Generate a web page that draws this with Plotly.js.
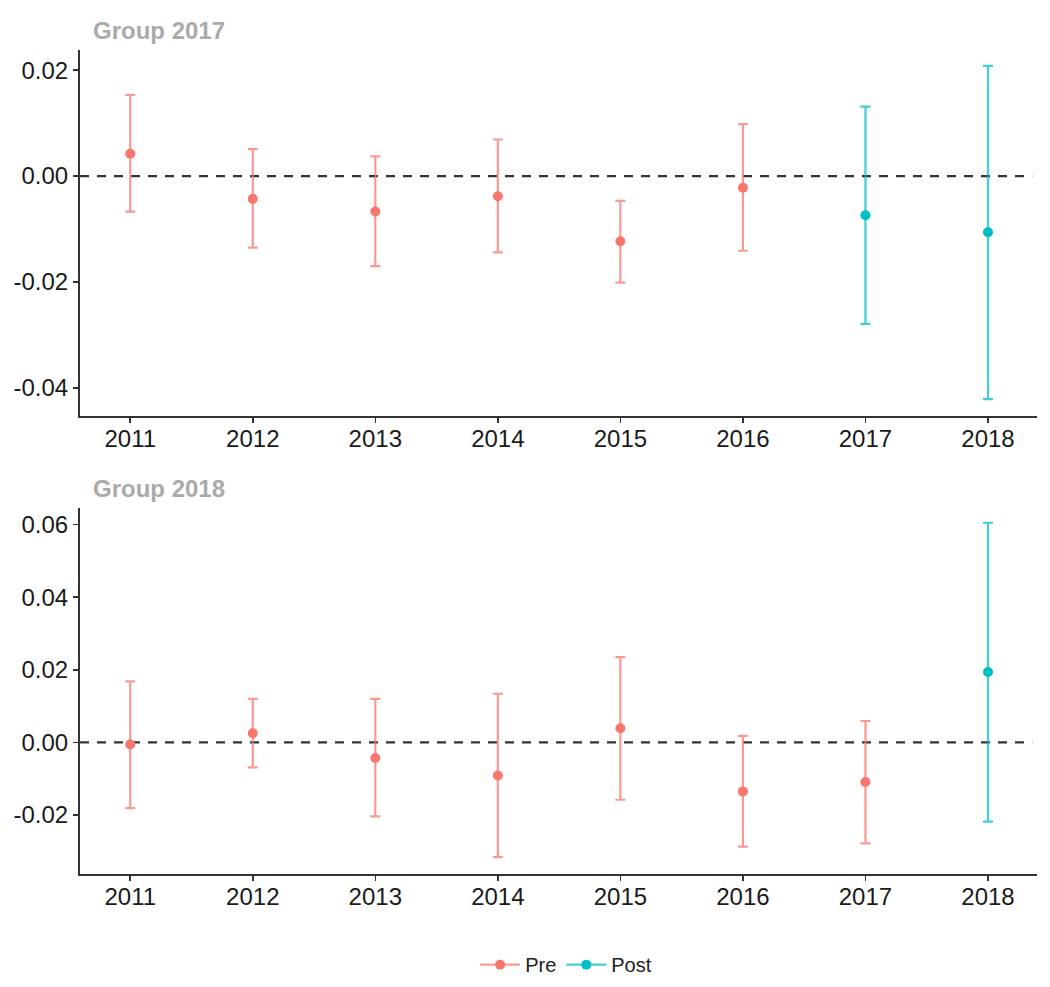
<!DOCTYPE html>
<html>
<head>
<meta charset="utf-8">
<script src="https://cdn.plot.ly/plotly-3.0.1.min.js"></script>
<style>html,body{margin:0;padding:0;background:#fff}#chart{width:1050px;height:987px}</style>
</head>
<body>
<div id="chart"></div>
<script>
var years = [2011, 2012, 2013, 2014, 2015, 2016, 2017, 2018];

var g2017_est  = [0.0042, -0.0043, -0.0067, -0.0038, -0.0123, -0.0022, -0.0074, -0.0106];
var g2017_low  = [-0.0067, -0.0135, -0.0170, -0.0144, -0.0201, -0.0141, -0.0279, -0.0421];
var g2017_high = [0.0153, 0.0051, 0.0037, 0.0069, -0.0047, 0.0098, 0.0131, 0.0208];
var g2017_period = ["Pre", "Pre", "Pre", "Pre", "Pre", "Pre", "Post", "Post"];

var g2018_est  = [-0.0006, 0.0025, -0.0043, -0.0091, 0.0039, -0.0135, -0.0109, 0.0194];
var g2018_low  = [-0.0181, -0.0069, -0.0204, -0.0316, -0.0158, -0.0287, -0.0278, -0.0218];
var g2018_high = [0.0168, 0.0120, 0.0120, 0.0134, 0.0235, 0.0018, 0.0059, 0.0605];
var g2018_period = ["Pre", "Pre", "Pre", "Pre", "Pre", "Pre", "Pre", "Post"];

var periods = ["Pre", "Post"];
var colors = {Pre: "#F8766D", Post: "#00BFC4"};
var barColors = {Pre: "rgba(248,118,109,0.75)", Post: "rgba(0,191,196,0.75)"};

function makeTraces(est, low, high, period, xa, ya) {
  var out = [];
  periods.forEach(function (p) {
    var xs = [], ys = [], up = [], dn = [];
    for (var i = 0; i < years.length; i++) {
      if (period[i] === p) {
        xs.push(years[i]); ys.push(est[i]);
        up.push(high[i] - est[i]); dn.push(est[i] - low[i]);
      }
    }
    out.push({
      type: "scatter", mode: "markers", x: xs, y: ys,
      xaxis: xa, yaxis: ya, showlegend: false, name: p,
      marker: {color: colors[p], size: 10},
      error_y: {type: "data", symmetric: false, array: up, arrayminus: dn,
                color: barColors[p], thickness: 2.2, width: 5}
    });
  });
  return out;
}

var data = [].concat(
  makeTraces(g2017_est, g2017_low, g2017_high, g2017_period, "x", "y"),
  makeTraces(g2018_est, g2018_low, g2018_high, g2018_period, "x2", "y2")
);
periods.forEach(function (p) {
  data.push({type: "scatter", mode: "lines+markers", x: [null], y: [null], name: p,
    xaxis: "x", yaxis: "y",
    line: {color: barColors[p], width: 2.2}, marker: {color: colors[p], size: 10}});
});

var tickFont = {family: "Liberation Sans, Arial, sans-serif", size: 24, color: "#1a1a1a"};
function xaxis(anchor) {
  return {anchor: anchor, domain: [0, 1], range: [2010.59, 2018.4],
    tickvals: years, ticktext: years.map(String), tickfont: tickFont,
    showline: true, linecolor: "#333", linewidth: 2, ticks: "outside",
    ticklen: 5, tickwidth: 1.6, tickcolor: "#333", showgrid: false, zeroline: false,
    automargin: false, ticklabelstandoff: -5};
}
function yaxis(anchor, dom, range, tv, tt) {
  return {anchor: anchor, domain: dom, range: range, tickvals: tv, ticktext: tt,
    tickfont: tickFont, showline: true, linecolor: "#333", linewidth: 2,
    ticks: "outside", ticklen: 5, tickwidth: 1.6, tickcolor: "#333",
    showgrid: false, zeroline: false, automargin: false};
}

var layout = {
  width: 1050, height: 987,
  margin: {l: 80, r: 13, t: 50, b: 113, autoexpand: false},
  paper_bgcolor: "#fff", plot_bgcolor: "#fff",
  font: {family: "Liberation Sans, Arial, sans-serif"},
  xaxis: xaxis("y"),
  yaxis: yaxis("x", [0.5558, 1], [-0.0453, 0.0238],
    [-0.04, -0.02, 0, 0.02], ["-0.04", "-0.02", "0.00", "0.02"]),
  xaxis2: xaxis("y2"),
  yaxis2: yaxis("x2", [0, 0.4442], [-0.03625, 0.06457],
    [-0.02, 0, 0.02, 0.04, 0.06], ["-0.02", "0.00", "0.02", "0.04", "0.06"]),
  shapes: [
    {type: "line", xref: "x domain", yref: "y", x0: 0, x1: 0.995, y0: 0, y1: 0,
     line: {color: "#333", width: 2.2, dash: "9px,8px"}, layer: "below"},
    {type: "line", xref: "x2 domain", yref: "y2", x0: 0, x1: 0.995, y0: 0, y1: 0,
     line: {color: "#333", width: 2.2, dash: "9px,8px"}, layer: "below"}
  ],
  annotations: [
    {text: "<b>Group 2017</b>", xref: "paper", yref: "paper", x: 0.012, y: 1.0,
     xanchor: "left", yanchor: "bottom", yshift: 4, showarrow: false,
     font: {size: 24, color: "#aaaaaa", family: "Liberation Sans, Arial, sans-serif"}},
    {text: "<b>Group 2018</b>", xref: "paper", yref: "paper", x: 0.012, y: 0.4442,
     xanchor: "left", yanchor: "bottom", yshift: 4, showarrow: false,
     font: {size: 24, color: "#aaaaaa", family: "Liberation Sans, Arial, sans-serif"}}
  ],
  legend: {orientation: "h", x: 0.508, xanchor: "center", y: -0.11, yanchor: "middle",
    itemwidth: 40, font: {size: 20, color: "#222"}, bgcolor: "rgba(0,0,0,0)"},
  showlegend: true
};

Plotly.newPlot("chart", data, layout, {displayModeBar: false, staticPlot: true});
</script>
</body>
</html>
